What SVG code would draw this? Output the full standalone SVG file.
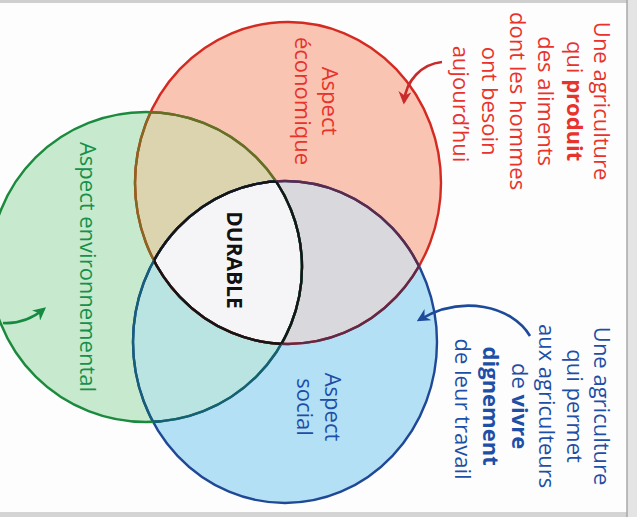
<svg xmlns="http://www.w3.org/2000/svg" width="637" height="517" viewBox="0 0 637 517">
<defs>
<style>
.ann{font-family:"Open Sans","Noto Sans",sans-serif;font-size:22px;text-anchor:middle}
.red{fill:#e8322b}
.blue{fill:#1d4fa6}
.green{fill:#15914a}
.b{font-weight:bold}
.edge{fill:none;stroke-width:2.4}
.arr{fill:none;stroke-width:2.6}
</style>
<clipPath id="cR"><ellipse cx="288" cy="183" rx="153" ry="161"/></clipPath>
<clipPath id="cB"><ellipse cx="285" cy="342" rx="152" ry="161"/></clipPath>
<clipPath id="cG"><ellipse cx="146" cy="267" rx="156" ry="155"/></clipPath>
<ellipse id="eR" cx="288" cy="183" rx="153" ry="161"/>
<ellipse id="eB" cx="285" cy="342" rx="152" ry="161"/>
<ellipse id="eG" cx="146" cy="267" rx="156" ry="155"/>
<marker id="mR" viewBox="0 0 10 10" refX="8" refY="5" markerWidth="5" markerHeight="5" orient="auto" markerUnits="strokeWidth"><path d="M0,0 L10,5 L0,10 L3,5 z" fill="#c92a2a"/></marker>
<marker id="mB" viewBox="0 0 10 10" refX="8" refY="5" markerWidth="5" markerHeight="5" orient="auto" markerUnits="strokeWidth"><path d="M0,0 L10,5 L0,10 L3,5 z" fill="#1d4a9a"/></marker>
<marker id="mG" viewBox="0 0 10 10" refX="8" refY="5" markerWidth="5" markerHeight="5" orient="auto" markerUnits="strokeWidth"><path d="M0,0 L10,5 L0,10 L3,5 z" fill="#158a40"/></marker>
</defs>
<rect x="0" y="0" width="637" height="517" fill="#fdfdfd"/>
<rect x="0" y="0" width="637" height="3" fill="#cfcfcf"/>
<rect x="0" y="512" width="637" height="5" fill="#d4d4d4"/>
<rect x="627" y="0" width="10" height="517" fill="#e4e4e4"/>
<line x1="627" y1="0" x2="627" y2="517" stroke="#a8a8a8" stroke-width="1.5"/>

<g id="fills">
<use href="#eR" fill="#f9c4b2"/>
<use href="#eB" fill="#b4e0f6"/>
<use href="#eG" fill="#c7eace"/>
<g clip-path="url(#cR)"><use href="#eB" fill="#d9d8dd"/></g>
<g clip-path="url(#cR)"><use href="#eG" fill="#dbd4af"/></g>
<g clip-path="url(#cB)"><use href="#eG" fill="#b9e4e1"/></g>
<g clip-path="url(#cR)"><g clip-path="url(#cB)"><use href="#eG" fill="#f5f5f8"/></g></g>
</g>

<g id="node-economique">
<use href="#eR" class="edge" stroke="#d42a22"/>
<text class="ann red" transform="rotate(90)"><tspan x="101" y="-322">Aspect</tspan><tspan x="101" y="-295">économique</tspan></text>
</g>
<g id="node-social">
<use href="#eB" class="edge" stroke="#1f4896"/>
<text class="ann blue" transform="rotate(90)"><tspan x="407" y="-325">Aspect</tspan><tspan x="407" y="-297">social</tspan></text>
</g>
<g id="node-environnemental">
<use href="#eG" class="edge" stroke="#1b8a3e"/>
<text class="ann green" transform="rotate(90)" x="267" y="-80">Aspect environnemental</text>
</g>

<g id="overlap-edges">
<g clip-path="url(#cG)"><use href="#eR" class="edge" stroke="#85681f"/></g>
<g clip-path="url(#cR)"><use href="#eG" class="edge" stroke="#6f6c22"/></g>
<g clip-path="url(#cB)"><use href="#eR" class="edge" stroke="#5e2a4a"/></g>
<g clip-path="url(#cR)"><use href="#eB" class="edge" stroke="#5e2a4a"/></g>
<g clip-path="url(#cG)"><use href="#eB" class="edge" stroke="#175e78"/></g>
<g clip-path="url(#cB)"><use href="#eG" class="edge" stroke="#175e78"/></g>
<g clip-path="url(#cG)"><g clip-path="url(#cB)"><use href="#eR" class="edge" stroke="#151515"/></g></g>
<g clip-path="url(#cG)"><g clip-path="url(#cR)"><use href="#eB" class="edge" stroke="#151515"/></g></g>
<g clip-path="url(#cR)"><g clip-path="url(#cB)"><use href="#eG" class="edge" stroke="#151515"/></g></g>
</g>

<g id="node-durable">
<text class="ann b" transform="rotate(90)" x="260" y="-227" style="font-size:21px;fill:#111">DURABLE</text>
</g>

<g id="note-economique">
<text class="ann red" transform="rotate(90)">
<tspan x="104" y="-594">Une agriculture</tspan>
<tspan x="104" y="-567">qui <tspan class="b">produit</tspan></tspan>
<tspan x="104" y="-538">des aliments</tspan>
<tspan x="104" y="-510">dont les hommes</tspan>
<tspan x="104" y="-482">ont besoin</tspan>
<tspan x="104" y="-453">aujourd’hui</tspan>
</text>
</g>
<g id="note-social">
<text class="ann blue" transform="rotate(90)">
<tspan x="409" y="-594">Une agriculture</tspan>
<tspan x="409" y="-567">qui permet</tspan>
<tspan x="409" y="-539">aux agriculteurs</tspan>
<tspan x="409" y="-512">de <tspan class="b">vivre</tspan></tspan>
<tspan x="409" y="-483" class="b">dignement</tspan>
<tspan x="409" y="-455">de leur travail</tspan>
</text>
</g>

<g id="connectors">
<path class="arr" d="M442,62 C422,64 406,80 404,102" stroke="#c92a2a" marker-end="url(#mR)"/>
<path class="arr" d="M530,336 C512,306 462,294 419,320" stroke="#1d4a9a" marker-end="url(#mB)"/>
<path class="arr" d="M3,323 C20,324 33,318 44,309" stroke="#158a40" marker-end="url(#mG)"/>
</g>
</svg>
